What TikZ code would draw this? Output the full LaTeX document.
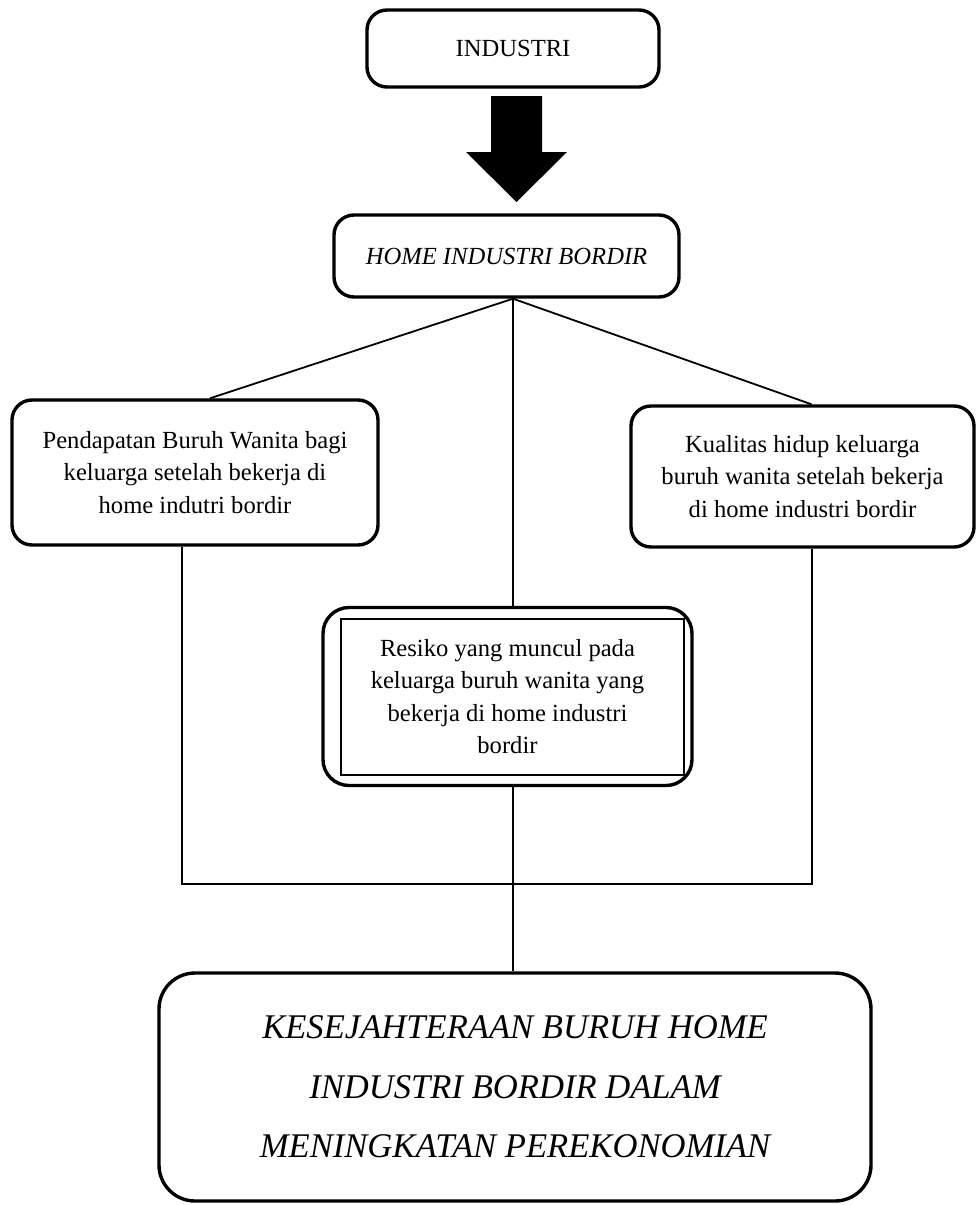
\documentclass[tikz,border=0pt]{standalone}
\usepackage{fontspec}
\setmainfont{Liberation Serif}
\usetikzlibrary{positioning,calc}

\begin{document}
\begin{tikzpicture}[x=0.5pt, y=-0.5pt,
    box/.style={draw, line width=1.7pt, rounded corners=10pt, align=center, inner sep=0pt, font=\fontsize{12.3}{16.2}\selectfont},
    link/.style={line width=0.9pt}]
    \useasboundingbox (0,0) rectangle (975,1205);

    % top boxes
    \node[box, minimum width=146pt, minimum height=38.5pt] (industri) at (513,48.5) {INDUSTRI};
    \node[box, minimum width=172.5pt, minimum height=41pt, font=\fontsize{12.3}{16.2}\selectfont\itshape] (home) at (506.5,256) {HOME INDUSTRI BORDIR};

    % block arrow
    \fill (491,96) -- (542,96) -- (542,152) -- (567,152) -- (516.5,202) -- (466,152) -- (491,152) -- cycle;

    % three branches
    \node[box, minimum width=183pt, minimum height=72.5pt] (pendapatan) at (195,472.5) {Pendapatan Buruh Wanita bagi\\ keluarga setelah bekerja di\\ home indutri bordir};
    \node[box, minimum width=171.5pt, minimum height=70.5pt] (kualitas) at (802.5,476.5) {Kualitas hidup keluarga\\ buruh wanita setelah bekerja\\ di home industri bordir};
    \node[box, rounded corners=13pt, minimum width=184.5pt, minimum height=89pt] (resiko) at (507.5,696.5) {Resiko yang muncul pada\\ keluarga buruh wanita yang\\ bekerja di home industri\\ bordir};
    \draw[line width=1pt] ($(resiko.north west)+(20,13)$) rectangle ($(resiko.south east)+(-10,-12)$);

    % result
    \node[box, rounded corners=18pt, minimum width=356pt, minimum height=114pt, font=\fontsize{17.3}{29.75}\selectfont\itshape] (sejahtera) at (515,1087) {KESEJAHTERAAN BURUH HOME\\ INDUSTRI BORDIR DALAM\\ MENINGKATAN PEREKONOMIAN};

    % connectors
    \coordinate (fork) at ([xshift=3.25pt]home.south);
    \coordinate (join) at (513,884);
    \draw[link] (fork) -- ([xshift=7.5pt]pendapatan.north);
    \draw[link] (fork) -- ([xshift=4.5pt]kualitas.north);
    \draw[link] (fork) -- (fork |- resiko.north);
    \draw[link] ([xshift=-6.5pt]pendapatan.south) -- ([xshift=-6.5pt]pendapatan.south |- join) -- ([xshift=4.75pt]kualitas.south |- join) -- ([xshift=4.75pt]kualitas.south);
    \draw[link] (fork |- resiko.south) -- (fork |- sejahtera.north);
\end{tikzpicture}
\end{document}
